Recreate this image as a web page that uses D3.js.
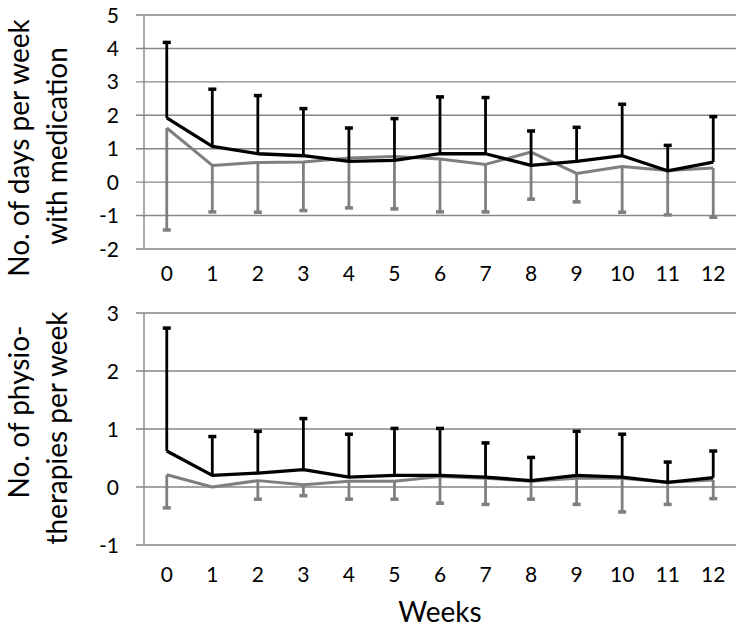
<!DOCTYPE html>
<html><head><meta charset="utf-8">
<script src="https://cdn.jsdelivr.net/npm/d3@7"></script>
<style>body{margin:0;background:#fff}svg{display:block}text{font-family:Lato,"Open Sans",sans-serif;fill:#000}</style>
</head><body>
<svg id="c" width="743" height="631"></svg>
<script>
const weeks = ["0","1","2","3","4","5","6","7","8","9","10","11","12"];
// Top panel: days per week with medication
const medBlackMean = [1.92,1.07,0.85,0.79,0.62,0.65,0.85,0.85,0.50,0.62,0.79,0.34,0.60];
const medBlackUpper = [4.18,2.78,2.59,2.20,1.62,1.90,2.55,2.53,1.53,1.64,2.33,1.10,1.96];
const medGrayMean = [1.62,0.50,0.59,0.60,0.72,0.77,0.69,0.53,0.90,0.26,0.47,0.35,0.42];
const medGrayLower = [-1.43,-0.89,-0.90,-0.85,-0.77,-0.80,-0.89,-0.89,-0.51,-0.59,-0.90,-0.98,-1.05];
const medTicks = [-2,-1,0,1,2,3,4,5];
// Bottom panel: physiotherapies per week
const phyBlackMean = [0.62,0.20,0.24,0.30,0.17,0.20,0.20,0.17,0.11,0.20,0.17,0.08,0.16];
const phyBlackUpper = [2.74,0.87,0.96,1.18,0.91,1.01,1.01,0.76,0.51,0.96,0.91,0.43,0.62];
const phyGrayMean = [0.21,0.00,0.11,0.04,0.10,0.10,0.18,0.15,0.10,0.15,0.15,0.08,0.12];
const phyGrayLower = [-0.36,0.00,-0.21,-0.15,-0.21,-0.21,-0.28,-0.30,-0.21,-0.30,-0.43,-0.30,-0.20];
const phyTicks = [-1,0,1,2,3];

const svg = d3.select("#c");
const x = d3.scaleBand().domain(weeks).range([144,736]).padding(0);
const cx = d => x(d) + x.bandwidth()/2;
const gridCol = "#868686", grayCol = "#7f7f7f";

function panel(yDomain, yRange, ticks, bMean, bUp, gMean, gLow, xLabelY, titleLines) {
  const y = d3.scaleLinear().domain(yDomain).range(yRange);
  const g = svg.append("g");
  g.selectAll("line.grid").data(ticks).join("line")
    .attr("x1",136).attr("x2",736).attr("y1",d=>y(d)).attr("y2",d=>y(d))
    .attr("stroke",gridCol).attr("stroke-width",1.4);
  g.append("line").attr("x1",144).attr("x2",144).attr("y1",y(yDomain[1])).attr("y2",y(yDomain[0]))
    .attr("stroke",gridCol).attr("stroke-width",1.4);
  g.selectAll("text.yt").data(ticks).join("text")
    .attr("x",119).attr("y",d=>y(d)).attr("dy","0.36em").attr("text-anchor","end")
    .attr("font-size",21).text(d=>d);
  g.selectAll("text.xt").data(weeks).join("text")
    .attr("x",d=>cx(d)).attr("y",xLabelY).attr("text-anchor","middle")
    .attr("font-size",21).text(d=>d);
  const line = d3.line().x((d,i)=>cx(weeks[i])).y(d=>y(d));
  const gd = weeks.map((w,i)=>({w,m:gMean[i],e:gLow[i]}));
  g.selectAll("line.ge").data(gd.filter(d=>d.e<d.m)).join("line")
    .attr("x1",d=>cx(d.w)).attr("x2",d=>cx(d.w)).attr("y1",d=>y(d.m)).attr("y2",d=>y(d.e))
    .attr("stroke",grayCol).attr("stroke-width",2.8);
  g.selectAll("rect.gc").data(gd.filter(d=>d.e<d.m)).join("rect")
    .attr("x",d=>cx(d.w)-4).attr("y",d=>y(d.e)-1.75).attr("width",8).attr("height",3.5)
    .attr("fill",grayCol);
  g.append("path").datum(gMean).attr("d",line).attr("fill","none")
    .attr("stroke",grayCol).attr("stroke-width",3).attr("stroke-linejoin","round");
  const bd = weeks.map((w,i)=>({w,m:bMean[i],e:bUp[i]}));
  g.selectAll("line.be").data(bd).join("line")
    .attr("x1",d=>cx(d.w)).attr("x2",d=>cx(d.w)).attr("y1",d=>y(d.m)).attr("y2",d=>y(d.e))
    .attr("stroke","#000").attr("stroke-width",2.8);
  g.selectAll("rect.bc").data(bd).join("rect")
    .attr("x",d=>cx(d.w)-4).attr("y",d=>y(d.e)-1.75).attr("width",8).attr("height",3.5)
    .attr("fill","#000");
  g.append("path").datum(bMean).attr("d",line).attr("fill","none")
    .attr("stroke","#000").attr("stroke-width",3.3).attr("stroke-linejoin","round");
  titleLines.forEach(t=>{
    g.append("text").attr("transform",`translate(${t.bx},${t.cy}) rotate(-90)`)
      .attr("text-anchor","middle").attr("font-size",28).text(t.s);
  });
}

panel([-2,5],[249,15],medTicks,medBlackMean,medBlackUpper,medGrayMean,medGrayLower,281,
  [{s:"No. of days per week",bx:29,cy:148},{s:"with medication",bx:67,cy:146}]);
panel([-1,3],[545,313],phyTicks,phyBlackMean,phyBlackUpper,phyGrayMean,phyGrayLower,582,
  [{s:"No. of physio-",bx:29,cy:412},{s:"therapies per week",bx:67,cy:428}]);

svg.append("text").attr("x",440).attr("y",622).attr("text-anchor","middle")
  .attr("font-size",28).text("Weeks");
</script>
</body></html>
